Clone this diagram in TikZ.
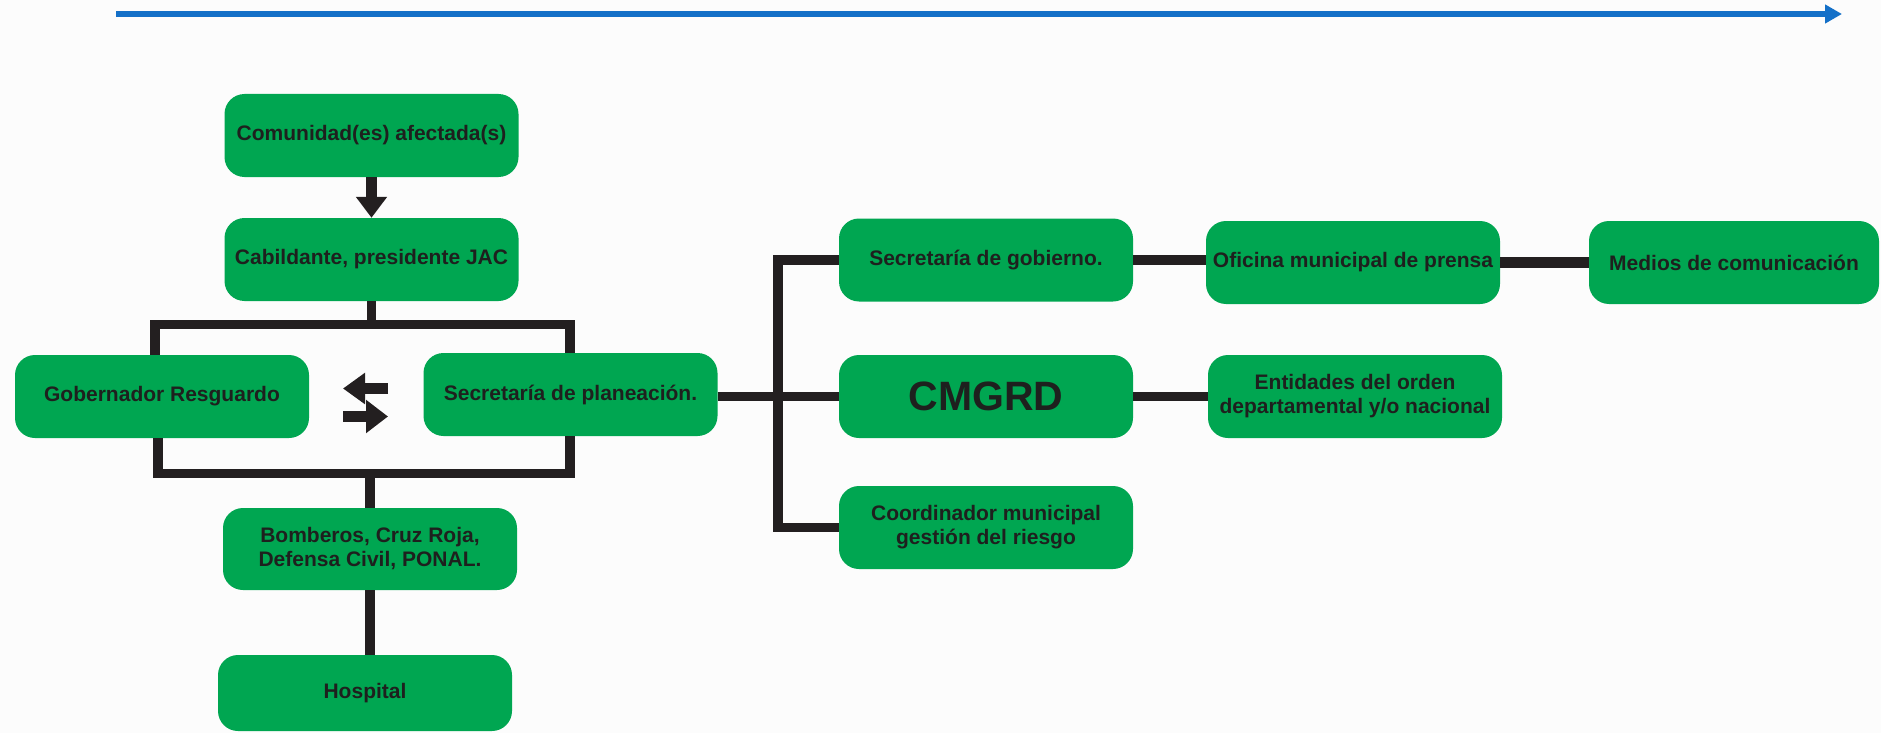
\documentclass[tikz,border=0pt]{standalone}
\usepackage{fontspec}
\setmainfont{Liberation Sans}
\usetikzlibrary{arrows.meta}
\definecolor{boxgreen}{RGB}{0,166,81}
\definecolor{txtdark}{RGB}{30,32,30}
\definecolor{linedark}{RGB}{35,31,32}
\definecolor{arrowblue}{RGB}{20,112,200}
\definecolor{bgcol}{RGB}{252,252,252}
\begin{document}
\begin{tikzpicture}[x=1pt,y=-1pt,
  gbox/.style={rounded corners=20pt, fill=boxgreen, text=txtdark, align=center,
    inner sep=0pt, minimum width=294pt, minimum height=83pt,
    font=\bfseries\fontsize{21}{24}\selectfont},
  conn/.style={draw=linedark, line width=9.5pt},
  fatarrow/.style={draw=linedark, line width=11pt, -{Triangle[width=30pt,length=21pt]}}
]
\fill[bgcol] (0,0) rectangle (1881,733);
\useasboundingbox (0,0) rectangle (1881,733);

% timeline arrow
\coordinate (ta) at (116,14);
\coordinate (tb) at (1842,14);
\draw[arrowblue, line width=6pt, -{Triangle[width=18pt,length=17pt]}] (ta) -- (tb);

% nodes
\node[gbox] (com) at (371.5,135.5) {Comunidad(es) afectada(s)};
\node[gbox] (cab) at (371.5,259.5) {Cabildante, presidente JAC};
\node[gbox] (gob) at (162,396.5) {Gobernador Resguardo};
\node[gbox] (plan) at (570.5,394.5) {Secretaría de planeación.};
\node[gbox, minimum height=82pt] (bom) at (370,549) {Bomberos, Cruz Roja,\\Defensa Civil, PONAL.};
\node[gbox, minimum height=76pt] (hos) at (365,693) {Hospital};

\node[gbox] (gobS) at (986,260) {Secretaría de gobierno.};
\node[gbox] (ofi) at (1353,262.5) {Oficina municipal de prensa};
\node[gbox, minimum width=290pt] (med) at (1734,262.5) {Medios de comunicación};
\node[gbox, font=\bfseries\fontsize{41}{44}\selectfont] (cmg) at (986,396.5) {CMGRD};
\node[gbox] (ent) at (1355,396.5) {Entidades del orden\\departamental y/o nacional};
\node[gbox] (coo) at (986,527.5) {Coordinador municipal\\gestión del riesgo};

% connectors left part
\draw[fatarrow] (com.south) -- (cab.north);

\coordinate (tl) at (155,324.5);
\coordinate (tr) at (570,324.5);
\draw[conn] (gob.north -| tl) -- (tl) -- (tr) -- (plan.north -| tr);
\draw[conn] (cab.south) -- (cab.south |- tl);

\coordinate (bl) at (158,473.5);
\coordinate (br) at (570,473.5);
\draw[conn] (gob.south -| bl) -- (bl) -- (br) -- (plan.south -| br);
\draw[conn] (bom.north |- bl) -- (bom.north);
\draw[conn] (bom.south) -- (bom.south |- hos.north);

% swap arrows
\coordinate (s1a) at (388,388.5);
\coordinate (s1b) at (343,388.5);
\coordinate (s2a) at (343,416.5);
\coordinate (s2b) at (388,416.5);
\draw[fatarrow, -{Triangle[width=30pt,length=22pt]}] (s1a) -- (s1b);
\draw[fatarrow, -{Triangle[width=32pt,length=22pt]}] (s2a) -- (s2b);

% connectors right part
\coordinate (trunk) at (778,0);
\draw[conn] (plan.east |- cmg.west) -- (cmg.west);
\draw[conn] (gobS.west) -- (gobS.west -| trunk) -- (coo.west -| trunk) -- (coo.west);
\draw[conn, line width=10.5pt] (gobS.east) -- (ofi.west |- gobS.east);
\draw[conn, line width=10.5pt] (ofi.east) -- (med.west);
\draw[conn] (cmg.east) -- (ent.west);
\end{tikzpicture}
\end{document}
